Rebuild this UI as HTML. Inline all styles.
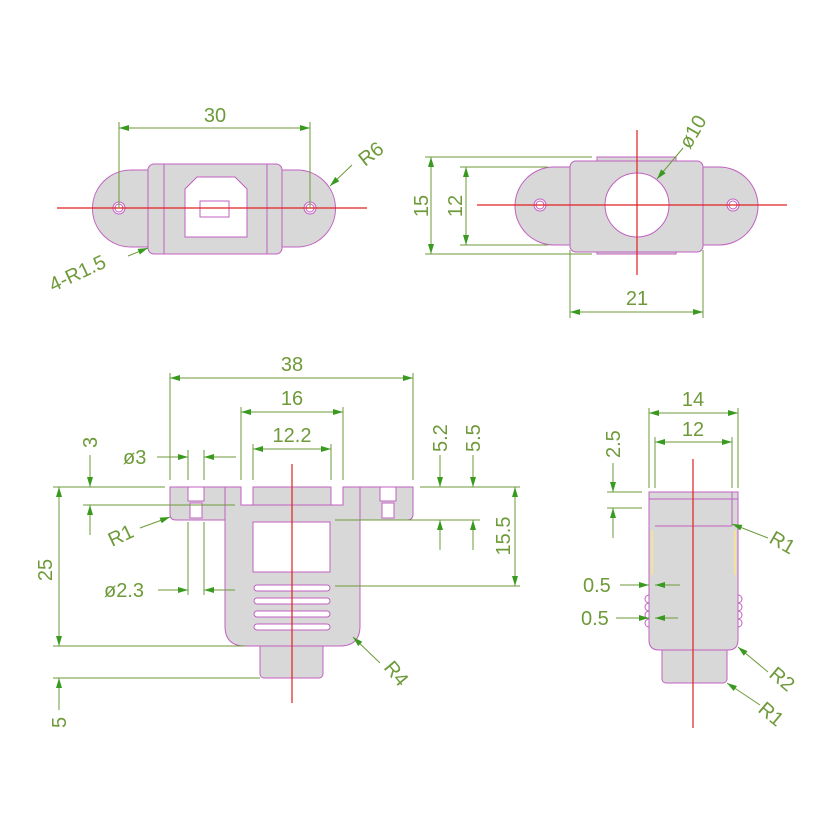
<!DOCTYPE html>
<html><head><style>body{margin:0;background:#fff}svg{display:block}text{font-family:"Liberation Sans",sans-serif;font-size:20px;fill:#6e9a3a}</style></head><body>
<svg width="826" height="826" viewBox="0 0 826 826" xmlns="http://www.w3.org/2000/svg">
<defs><marker id="a" viewBox="0 0 10 6" refX="10" refY="3" markerWidth="14" markerHeight="6" orient="auto-start-reverse" markerUnits="userSpaceOnUse"><path d="M0,0L10,3L0,6z" fill="#3a9a20"/></marker></defs>
<g fill="#d9d8d9" stroke="#c060c0" stroke-width="1">
<!-- view1 -->
<path d="M148,170 H131 A38,38 0 0 0 131,247 H148 Z M282,170 H297 A38,38 0 0 1 297,247 H282 Z"/>
<rect x="148" y="164" width="134" height="90" rx="6"/>
<line x1="164" y1="164" x2="164" y2="254"/><line x1="267" y1="164" x2="267" y2="254"/>
<path d="M185,237 V189 L197,177 H235 L247,189 V237 Z" fill="#fff"/>
<rect x="200" y="201" width="29" height="16" fill="#fff"/>
<circle cx="119" cy="208" r="6" fill="#fff"/><circle cx="119" cy="208" r="4" fill="#fff"/>
<circle cx="310" cy="208" r="6" fill="#fff"/><circle cx="310" cy="208" r="4" fill="#fff"/>
<!-- view2 -->
<path d="M570,167 H554 A39,39 0 0 0 554,245 H570 Z M703,167 H719 A39,39 0 0 1 719,245 H703 Z"/>
<rect x="597" y="157" width="79" height="97"/>
<rect x="570" y="161" width="133" height="91" rx="6"/>
<circle cx="637" cy="205" r="32" fill="#fff"/>
<circle cx="540" cy="205" r="6" fill="#fff"/><circle cx="540" cy="205" r="4" fill="#fff"/>
<circle cx="733" cy="205" r="6" fill="#fff"/><circle cx="733" cy="205" r="4" fill="#fff"/>
<!-- view3 -->
<rect x="260" y="630" width="63" height="48" rx="4"/>
<path d="M170,487 H241 V505 H343 V487 H413 V514 Q413,520 407,520 H360 V626 Q360,646 340,646 H245 Q225,646 225,626 V520 H176 Q170,520 170,514 Z"/>
<rect x="253" y="487" width="78" height="18" fill="#d9d8d9"/>
<line x1="225" y1="487" x2="225" y2="520"/><line x1="360" y1="487" x2="360" y2="520"/>
<rect x="188" y="487" width="16" height="14" fill="#fff"/><rect x="190" y="503" width="12" height="15" fill="#fff"/>
<rect x="380" y="487" width="16" height="14" fill="#fff"/><rect x="382" y="503" width="12" height="15" fill="#fff"/>
<rect x="253" y="522" width="77" height="50" fill="#fff"/>
<rect x="254" y="585" width="76" height="6" rx="3" fill="#fff"/><rect x="254" y="598" width="76" height="6" rx="3" fill="#fff"/>
<rect x="254" y="611" width="76" height="6" rx="3" fill="#fff"/><rect x="254" y="624" width="76" height="6" rx="3" fill="#fff"/>
<!-- view4 -->
<rect x="662" y="640" width="65" height="43" rx="4"/>
<path d="M649,492 H738 V640 Q738,650 728,650 H659 Q649,650 649,640 Z"/>
<path d="M655,526 H732 M732,492 V526 M649,499 H738" fill="none"/>
<path d="M649,595 a3,3 0 0 0 0,8 a3,3 0 0 0 0,8 a3,3 0 0 0 0,8 a3,3 0 0 0 0,8 M738,595 a3,3 0 0 1 0,8 a3,3 0 0 1 0,8 a3,3 0 0 1 0,8 a3,3 0 0 1 0,8" fill="none"/>
</g>
<g stroke="#f3e39a" stroke-width="2"><line x1="652" y1="530" x2="652" y2="575"/><line x1="735" y1="530" x2="735" y2="575"/></g>
<g stroke="#e02020" stroke-width="1.2">
<line x1="57" y1="208" x2="367" y2="208"/>
<line x1="477" y1="205" x2="787" y2="205"/><line x1="637" y1="130" x2="637" y2="275"/>
<line x1="292" y1="464" x2="292" y2="703"/>
<line x1="693" y1="459" x2="693" y2="728"/>
</g>
<g stroke="#6e9a3a" stroke-width="1" fill="none">
<line x1="119" y1="122" x2="119" y2="208"/><line x1="310" y1="122" x2="310" y2="208"/>
<line x1="119" y1="128" x2="310" y2="128" marker-start="url(#a)" marker-end="url(#a)"/>
<line x1="352" y1="165" x2="330" y2="186" marker-end="url(#a)"/>
<line x1="128" y1="256" x2="148" y2="248" marker-end="url(#a)"/>
<line x1="425" y1="157" x2="592" y2="157"/><line x1="425" y1="254" x2="592" y2="254"/>
<line x1="431" y1="157" x2="431" y2="254" marker-start="url(#a)" marker-end="url(#a)"/>
<line x1="460" y1="167" x2="548" y2="167"/><line x1="460" y1="245" x2="548" y2="245"/>
<line x1="466" y1="167" x2="466" y2="245" marker-start="url(#a)" marker-end="url(#a)"/>
<line x1="570" y1="250" x2="570" y2="318"/><line x1="703" y1="250" x2="703" y2="318"/>
<line x1="570" y1="312" x2="703" y2="312" marker-start="url(#a)" marker-end="url(#a)"/>
<line x1="683" y1="148" x2="657" y2="179" marker-end="url(#a)"/>
<line x1="170" y1="373" x2="170" y2="480"/><line x1="413" y1="373" x2="413" y2="480"/>
<line x1="170" y1="378" x2="413" y2="378" marker-start="url(#a)" marker-end="url(#a)"/>
<line x1="241" y1="407" x2="241" y2="480"/><line x1="343" y1="407" x2="343" y2="480"/>
<line x1="241" y1="412" x2="343" y2="412" marker-start="url(#a)" marker-end="url(#a)"/>
<line x1="253" y1="444" x2="253" y2="480"/><line x1="331" y1="444" x2="331" y2="480"/>
<line x1="253" y1="449" x2="331" y2="449" marker-start="url(#a)" marker-end="url(#a)"/>
<line x1="188" y1="450" x2="188" y2="480"/><line x1="204" y1="450" x2="204" y2="480"/>
<line x1="157" y1="457" x2="188" y2="457" marker-end="url(#a)"/>
<line x1="236" y1="457" x2="204" y2="457" marker-end="url(#a)"/>
<line x1="53" y1="487" x2="165" y2="487"/><line x1="83" y1="505" x2="235" y2="505"/>
<line x1="90" y1="455" x2="90" y2="487" marker-end="url(#a)"/>
<line x1="90" y1="535" x2="90" y2="505" marker-end="url(#a)"/>
<line x1="59" y1="487" x2="59" y2="646" marker-start="url(#a)" marker-end="url(#a)"/>
<line x1="53" y1="646" x2="245" y2="646"/><line x1="53" y1="678" x2="260" y2="678"/>
<line x1="59" y1="710" x2="59" y2="678" marker-end="url(#a)"/>
<line x1="188" y1="522" x2="188" y2="595"/><line x1="204" y1="522" x2="204" y2="595"/>
<line x1="158" y1="590" x2="188" y2="590" marker-end="url(#a)"/>
<line x1="235" y1="590" x2="204" y2="590" marker-end="url(#a)"/>
<line x1="140" y1="528" x2="170" y2="517" marker-end="url(#a)"/>
<line x1="380" y1="663" x2="353" y2="637" marker-end="url(#a)"/>
<line x1="420" y1="487" x2="520" y2="487"/><line x1="335" y1="520" x2="480" y2="520"/>
<line x1="440" y1="455" x2="440" y2="487" marker-end="url(#a)"/>
<line x1="440" y1="550" x2="440" y2="520" marker-end="url(#a)"/>
<line x1="473" y1="455" x2="473" y2="487" marker-end="url(#a)"/>
<line x1="473" y1="550" x2="473" y2="520" marker-end="url(#a)"/>
<line x1="335" y1="586" x2="520" y2="586"/>
<line x1="515" y1="487" x2="515" y2="586" marker-start="url(#a)" marker-end="url(#a)"/>
<line x1="649" y1="408" x2="649" y2="488"/><line x1="738" y1="408" x2="738" y2="488"/>
<line x1="649" y1="413" x2="738" y2="413" marker-start="url(#a)" marker-end="url(#a)"/>
<line x1="655" y1="437" x2="655" y2="488"/><line x1="732" y1="437" x2="732" y2="488"/>
<line x1="655" y1="442" x2="732" y2="442" marker-start="url(#a)" marker-end="url(#a)"/>
<line x1="607" y1="492" x2="642" y2="492"/><line x1="607" y1="508" x2="642" y2="508"/>
<line x1="613" y1="463" x2="613" y2="492" marker-end="url(#a)"/>
<line x1="613" y1="538" x2="613" y2="508" marker-end="url(#a)"/>
<line x1="620" y1="585" x2="649" y2="585" marker-end="url(#a)"/>
<line x1="680" y1="585" x2="655" y2="585" marker-end="url(#a)"/>
<line x1="616" y1="618" x2="649" y2="618" marker-end="url(#a)"/>
<line x1="678" y1="618" x2="655" y2="618" marker-end="url(#a)"/>
<line x1="768" y1="538" x2="732" y2="524" marker-end="url(#a)"/>
<line x1="768" y1="672" x2="738" y2="647" marker-end="url(#a)"/>
<line x1="760" y1="705" x2="727" y2="683" marker-end="url(#a)"/>
</g>
<g>
<text x="215" y="122" text-anchor="middle">30</text>
<text transform="translate(365,167) rotate(-38)">R6</text>
<text transform="translate(53,292) rotate(-25)">4-R1.5</text>
<text transform="translate(428,206) rotate(-90)" text-anchor="middle">15</text>
<text transform="translate(462,206) rotate(-90)" text-anchor="middle">12</text>
<text x="637" y="305" text-anchor="middle">21</text>
<text transform="translate(690,150) rotate(-60)">ø10</text>
<text x="292" y="371" text-anchor="middle">38</text>
<text x="292" y="405" text-anchor="middle">16</text>
<text x="292" y="442" text-anchor="middle">12.2</text>
<text x="123" y="464">ø3</text>
<text transform="translate(97,448) rotate(-90)">3</text>
<text transform="translate(52,570) rotate(-90)" text-anchor="middle">25</text>
<text transform="translate(66,728) rotate(-90)">5</text>
<text x="104" y="597">ø2.3</text>
<text transform="translate(112,547) rotate(-25)">R1</text>
<text transform="translate(383,668) rotate(50)">R4</text>
<text transform="translate(447,452) rotate(-90)">5.2</text>
<text transform="translate(480,452) rotate(-90)">5.5</text>
<text transform="translate(510,536) rotate(-90)" text-anchor="middle">15.5</text>
<text x="693" y="406" text-anchor="middle">14</text>
<text x="693" y="436" text-anchor="middle">12</text>
<text transform="translate(620,458) rotate(-90)">2.5</text>
<text x="583" y="592">0.5</text>
<text x="581" y="625">0.5</text>
<text transform="translate(768,542) rotate(30)">R1</text>
<text transform="translate(768,676) rotate(40)">R2</text>
<text transform="translate(757,711) rotate(40)">R1</text>
</g>
</svg>
</body></html>
